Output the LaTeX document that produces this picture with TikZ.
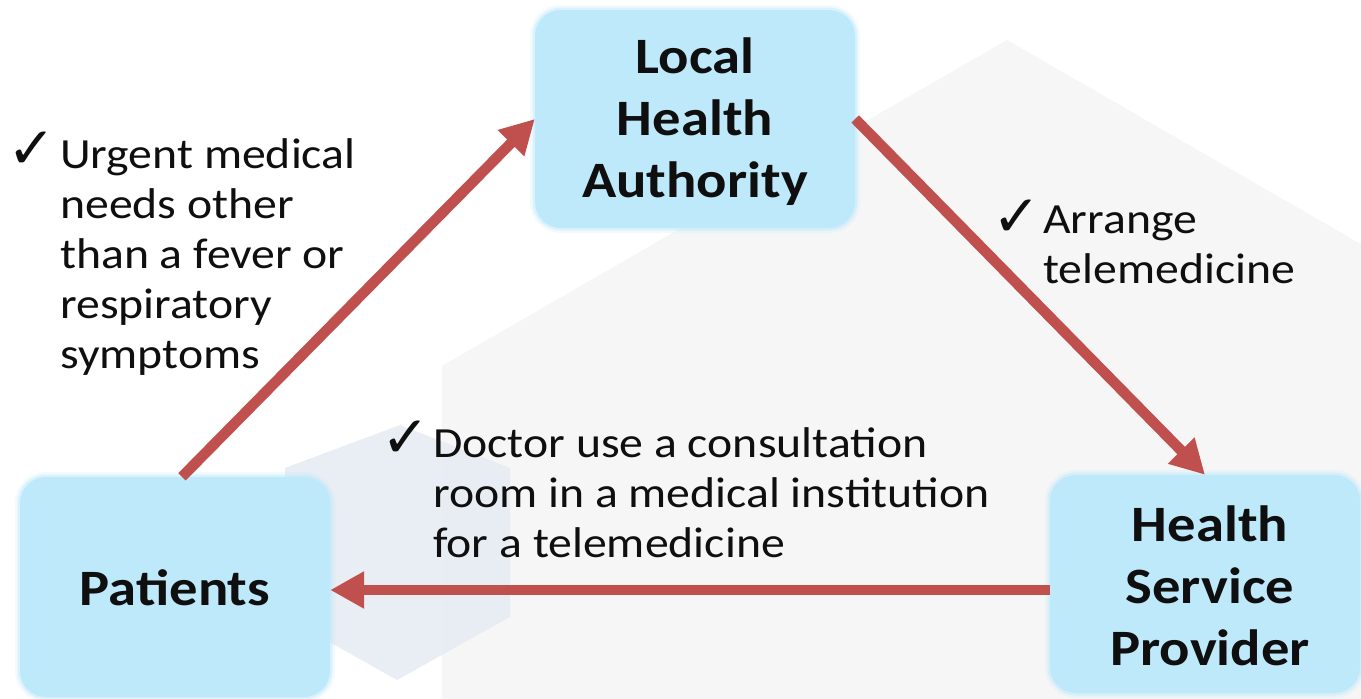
\documentclass[tikz,border=0pt]{standalone}
\usepackage{fontspec}
\setmainfont{Carlito}
\newfontfamily\symfont{DejaVu Sans}
\usetikzlibrary{arrows.meta}
\definecolor{boxblue}{RGB}{190,233,250}
\definecolor{arrred}{RGB}{192,80,77}
\definecolor{hexgray}{RGB}{246,246,247}
\definecolor{hexblue}{RGB}{230,235,243}
\definecolor{txt}{RGB}{15,15,15}
\newcommand\hsx[1]{\scalebox{1.11}[1]{#1}}
\begin{document}
\begin{tikzpicture}[x=1pt,y=-1pt,
  boxnode/.style={fill=boxblue, rounded corners=26pt, inner sep=0pt,
     preaction={draw=boxblue, line width=10pt, opacity=0.2},
     preaction={draw=boxblue, line width=5pt, opacity=0.45}},
  boxlabel/.style={inner sep=0pt, anchor=base, text=txt, font=\fontsize{51}{62}\selectfont\bfseries},
  note/.style={inner sep=0pt, anchor=base west, text=txt, font=\fontsize{43}{50}\selectfont},
  chk/.style={inner sep=0pt, text=txt, font=\symfont\fontsize{58}{58}\selectfont},
  arr/.style={draw=arrred, line width=10.5pt, -{Triangle[length=34pt,width=35pt]}}
]
\useasboundingbox (0,0) rectangle (1361,699);
% background
\fill[white] (0,0) rectangle (1361,699);
\fill[hexgray] (1007,40) -- (1572,366) -- (1572,1018) -- (1007,1344) -- (442,1018) -- (442,366) -- cycle;
\fill[hexblue, opacity=0.85] (400,425) -- (510,468) -- (510,617) -- (397,680) -- (285,617) -- (285,468) -- cycle;
% boxes
\node[boxnode, minimum width=320pt, minimum height=218pt] (lha) at (695,119) {};
\node[boxnode, minimum width=310pt, minimum height=220pt] (pat) at (175,587) {};
\node[boxnode, minimum width=310pt, minimum height=218pt] (hsp) at (1205,584) {};
% box labels
\node[boxlabel] (lhat) at (695,73) {\hsx{\begin{tabular}[t]{@{}c@{}}Local\\Health\\Authority\end{tabular}}};
\node[boxlabel] (patt) at (175,605) {\hsx{Patients}};
\node[boxlabel] (hspt) at (1210,541) {\hsx{\begin{tabular}[t]{@{}c@{}}Health\\Service\\Provider\end{tabular}}};
% connectors
\draw[arr] ([xshift=7pt]pat.north) -- (lha.west);
\draw[arr] (lha.east) -- (hsp.north);
\draw[arr] ([yshift=-6pt]hsp.west) -- ([yshift=-3pt]pat.east);
% notes
\node[chk] (c1) at (32,150) {✓};
\node[note] (n1) at (60,168) {\hsx{\begin{tabular}[t]{@{}l@{}}Urgent medical\\needs other\\than a fever or\\respiratory\\symptoms\end{tabular}}};
\node[chk] (c2) at (1017,218) {✓};
\node[note] (n2) at (1043,233) {\hsx{\begin{tabular}[t]{@{}l@{}}Arrange\\telemedicine\end{tabular}}};
\node[chk] (c3) at (406,439) {✓};
\node[note] (n3) at (433,457) {\hsx{\begin{tabular}[t]{@{}l@{}}Doctor use a consultation\\room in a medical institution\\for a telemedicine\end{tabular}}};
\end{tikzpicture}
\end{document}
